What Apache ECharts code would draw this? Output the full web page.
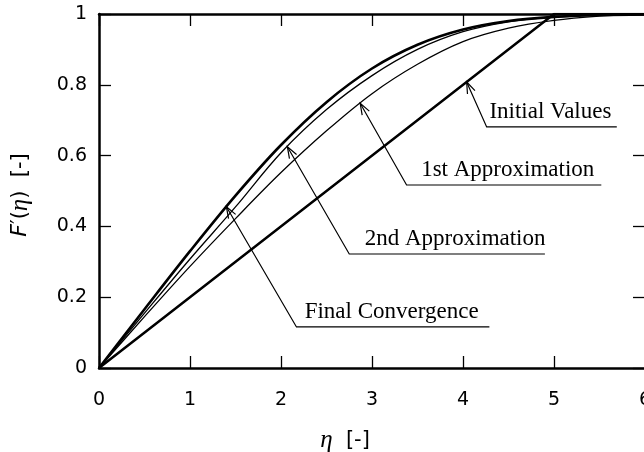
<!DOCTYPE html>
<html>
<head>
<meta charset="utf-8">
<script src="https://cdn.jsdelivr.net/npm/echarts@6/dist/echarts.min.js"></script>
<style>
  html, body { margin: 0; padding: 0; background: #fff; }
  #chart { width: 644px; height: 452px; }
</style>
</head>
<body>
<div id="chart"></div>
<script>
// Velocity profile F'(eta) for successive iterations of the boundary-layer solution
const eta = [0, 0.5, 1, 1.5, 2, 2.5, 3, 3.5, 4, 4.5, 5, 5.5, 6];
const finalConvergence = [0, 0.166, 0.330, 0.487, 0.630, 0.751, 0.846, 0.913, 0.956, 0.980, 0.992, 0.997, 0.999];
const secondApprox     = [0, 0.155, 0.308, 0.455, 0.608, 0.730, 0.826, 0.900, 0.950, 0.978, 0.991, 0.997, 1.000];
const firstApprox      = [0, 0.145, 0.287, 0.422, 0.552, 0.670, 0.775, 0.858, 0.922, 0.960, 0.982, 0.994, 1.000];
const initialEta  = [0, 5, 6];
const initialVals = [0, 1, 1];

const xTicks = [0, 1, 2, 3, 4, 5, 6];
const yTicks = [0, 0.2, 0.4, 0.6, 0.8, 1];

// Callout labels: arrow tip eta, elbow (eta, value), text start eta, underline end eta
const calloutText  = ['Initial Values', '1st Approximation', '2nd Approximation', 'Final Convergence'];
const calloutTip   = [4.04, 2.87, 2.07, 1.40];
const calloutElbow = [[4.26, 0.681], [3.38, 0.517], [2.75, 0.322], [2.17, 0.116]];
const calloutTextX = [4.29, 3.54, 2.92, 2.26];
const calloutEnd   = [5.69, 5.52, 4.90, 4.29];

const pairs = (xs, ys) => xs.map((x, i) => [x, ys[i]]);

const axisFont = 'DejaVu Sans';
const black = '#000';

const baseX = {
  type: 'value', min: xTicks[0], max: xTicks[xTicks.length - 1], interval: 1,
  axisLine: { show: true, onZero: false, lineStyle: { color: black, width: 2.5 } },
  axisTick: { show: true, inside: true, length: 12, lineStyle: { color: black, width: 1.3 } },
  splitLine: { show: false }
};
const baseY = {
  type: 'value', min: yTicks[0], max: yTicks[yTicks.length - 1], interval: 0.2,
  axisLine: { show: true, onZero: false, lineStyle: { color: black, width: 2.5 } },
  axisTick: { show: true, inside: true, length: 12, lineStyle: { color: black, width: 1.3 } },
  splitLine: { show: false }
};

const chart = echarts.init(document.getElementById('chart'), null, { renderer: 'canvas' });

const lineSeries = (name, xs, ys, width, smooth) => ({
  name, type: 'line', data: pairs(xs, ys), xAxisIndex: 0, yAxisIndex: 0,
  smooth: smooth ? 0.35 : false,
  showSymbol: false, symbol: 'none', silent: true,
  lineStyle: { color: black, width }
});

chart.setOption({
  animation: false,
  backgroundColor: '#fff',
  grid: { left: 99, top: 14, width: 546, height: 354, containLabel: false, outerBoundsMode: 'none' },
  xAxis: [
    Object.assign({}, baseX, {
      position: 'bottom',
      axisLabel: { show: true, margin: 23, color: black, fontFamily: axisFont, fontSize: 19 },
      name: '{g|η}{s|  [-]}',
      nameLocation: 'middle', nameGap: 60,
      nameTextStyle: {
        padding: [0, 54, 0, 0],
        rich: {
          g: { fontFamily: 'Liberation Serif', fontStyle: 'italic', fontSize: 25, color: black },
          s: { fontFamily: axisFont, fontSize: 21, color: black }
        }
      }
    }),
    Object.assign({}, baseX, { position: 'top', axisLabel: { show: false } })
  ],
  yAxis: [
    Object.assign({}, baseY, {
      position: 'left',
      axisLabel: { show: true, margin: 12, color: black, fontFamily: axisFont, fontSize: 19 },
      name: '{f|F}{s|′(}{g|η}{s|)  [-]}',
      nameLocation: 'middle', nameGap: 66, nameRotate: 90,
      nameTextStyle: {
        padding: [0, 8, 0, 0],
        rich: {
          f: { fontFamily: axisFont, fontStyle: 'italic', fontSize: 22, color: black },
          g: { fontFamily: 'Liberation Serif', fontStyle: 'italic', fontSize: 25, color: black },
          s: { fontFamily: axisFont, fontSize: 21, color: black }
        }
      }
    }),
    Object.assign({}, baseY, { position: 'right', axisLabel: { show: false } })
  ],
  series: [
    lineSeries('Initial Values', initialEta, initialVals, 2.5, false),
    lineSeries('1st Approximation', eta, firstApprox, 1.3, true),
    lineSeries('2nd Approximation', eta, secondApprox, 1.3, true),
    lineSeries('Final Convergence', eta, finalConvergence, 2.6, true)
  ]
});

// linear interpolation along a profile to place an arrow tip on its curve
function interp(xs, ys, x) {
  for (let i = 1; i < xs.length; i++) {
    if (x <= xs[i]) {
      const t = (x - xs[i - 1]) / (xs[i] - xs[i - 1]);
      return ys[i - 1] + t * (ys[i] - ys[i - 1]);
    }
  }
  return ys[ys.length - 1];
}

const profiles = [[initialEta, initialVals], [eta, firstApprox], [eta, secondApprox], [eta, finalConvergence]];
const toPx = (p) => chart.convertToPixel({ gridIndex: 0 }, p);

const graphics = [];
calloutText.forEach((label, k) => {
  const [xs, ys] = profiles[k];
  const tip = toPx([calloutTip[k], interp(xs, ys, calloutTip[k])]);
  const elbow = toPx(calloutElbow[k]);
  const end = toPx([calloutEnd[k], calloutElbow[k][1]]);
  const textX = toPx([calloutTextX[k], calloutElbow[k][1]])[0];

  // leader from the underline elbow to the curve
  graphics.push({
    type: 'polyline', silent: true,
    shape: { points: [[end[0], end[1]], [elbow[0], elbow[1]], [tip[0], tip[1]]] },
    style: { stroke: black, lineWidth: 1.2, fill: null }
  });

  // open arrow head at the tip
  const dx = elbow[0] - tip[0], dy = elbow[1] - tip[1];
  const len = Math.hypot(dx, dy);
  const ux = dx / len, uy = dy / len;
  const a = 20 * Math.PI / 180, L = 12;
  const w1 = [tip[0] + L * (ux * Math.cos(a) - uy * Math.sin(a)), tip[1] + L * (ux * Math.sin(a) + uy * Math.cos(a))];
  const w2 = [tip[0] + L * (ux * Math.cos(-a) - uy * Math.sin(-a)), tip[1] + L * (ux * Math.sin(-a) + uy * Math.cos(-a))];
  graphics.push({
    type: 'polyline', silent: true,
    shape: { points: [w1, [tip[0], tip[1]], w2] },
    style: { stroke: black, lineWidth: 1.2, fill: null }
  });

  graphics.push({
    type: 'text', silent: true,
    x: textX, y: elbow[1] - 15,
    style: {
      text: label, fill: black,
      font: '23px "Liberation Serif"',
      align: 'left', verticalAlign: 'middle',
      textAlign: 'left', textVerticalAlign: 'middle'
    }
  });
});

chart.setOption({ graphic: graphics });
</script>
</body>
</html>
